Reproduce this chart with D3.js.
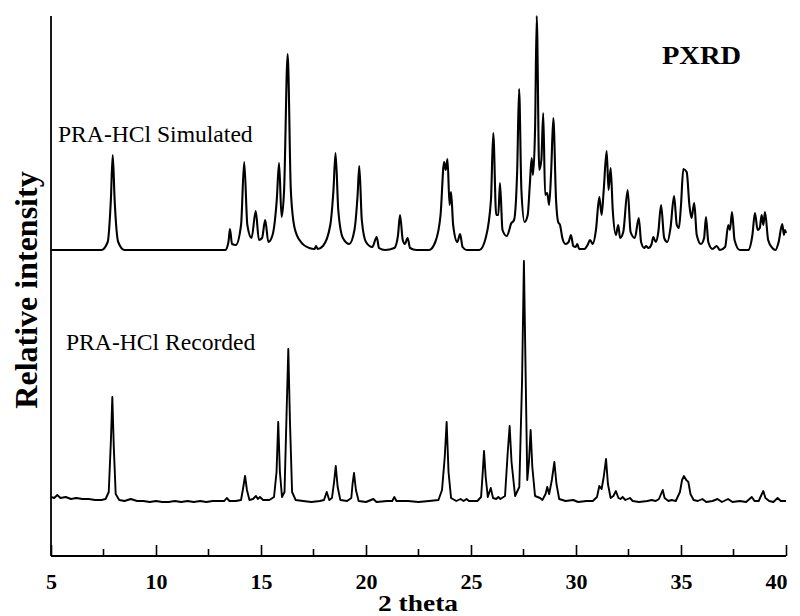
<!DOCTYPE html>
<html>
<head>
<meta charset="utf-8">
<script src="https://cdn.jsdelivr.net/npm/d3@7"></script>
<style>
  body { margin: 0; background: #fff; }
  text { font-family: "Liberation Serif", "Times New Roman", serif; fill: #000; }
</style>
</head>
<body>
<svg width="800" height="616"></svg>
<script>
// Simulated pattern, 2 theta and intensity above its own baseline
var simTheta = [5, 7.4, 7.7, 7.85, 7.94, 8.03, 8.2, 8.5, 13.3, 13.45, 13.52, 13.62, 13.8, 14.05, 14.2, 14.35, 14.55, 14.75, 14.9, 15.05,
    15.2, 15.35, 15.55, 15.75, 15.86, 15.98, 16.1, 16.27, 16.42, 16.6, 16.9, 17.3, 17.55, 17.62, 17.7, 17.95, 18.3, 18.45, 18.55, 18.68,
    18.9, 19.2, 19.45, 19.6, 19.68, 19.8, 20.0, 20.3, 20.51, 20.62, 20.9, 21.35, 21.52, 21.62, 21.75, 21.85, 21.98, 22.1, 22.4, 23.0,
    23.3, 23.55, 23.72, 23.8, 23.88, 23.98, 24.05, 24.15, 24.35, 24.48, 24.6, 24.8, 25.4, 25.7, 25.95, 26.06, 26.2, 26.3, 26.38, 26.5,
    26.7, 26.85, 26.9, 27.05, 27.2, 27.29, 27.4, 27.55, 27.7, 27.8, 27.89, 27.95, 28.05, 28.13, 28.25, 28.35, 28.44, 28.53, 28.63, 28.72,
    28.82, 28.92, 29.05, 29.15, 29.24, 29.35, 29.5, 29.65, 29.76, 29.87, 29.98, 30.06, 30.15, 30.4, 30.55, 30.67, 30.8, 30.95, 31.11, 31.22,
    31.32, 31.46, 31.55, 31.65, 31.75, 31.9, 32.01, 32.1, 32.25, 32.46, 32.6, 32.8, 32.99, 33.1, 33.25, 33.33, 33.45, 33.6, 33.68, 33.8,
    33.92, 34.05, 34.2, 34.35, 34.5, 34.67, 34.8, 34.9, 35.0, 35.11, 35.27, 35.4, 35.5, 35.63, 35.75, 35.95, 36.1, 36.19, 36.3, 36.5,
    36.7, 36.85, 37.1, 37.25, 37.33, 37.43, 37.55, 37.8, 38.2, 38.4, 38.52, 38.65, 38.75, 38.84, 38.92, 39.0, 39.15, 39.35, 39.5, 39.65,
    39.82, 39.9, 39.95, 40];
var simInt = [0, 0, 8, 50, 95, 50, 8, 0, 0, 8, 21, 6, 5, 25, 88, 25, 12, 39, 10, 12,
    30, 8, 15, 50, 87, 33, 60, 196, 60, 22, 8, 2, 1, 4, 1, 4, 25, 60, 97, 40,
    12, 6, 20, 55, 84, 30, 8, 3, 13, 2, 0, 2, 14, 35, 10, 6, 12, 2, 0, 0,
    8, 35, 88, 80, 91, 45, 58, 25, 8, 16, 3, 0, 0, 12, 50, 117, 35, 35, 67, 20,
    14, 22, 26, 30, 80, 161, 60, 28, 35, 65, 92, 75, 120, 234, 80, 90, 137, 55, 57, 45,
    80, 132, 50, 28, 25, 12, 6, 8, 15, 4, 3, 6, 1, 1, 5, 10, 6, 20, 53, 35,
    60, 99, 60, 82, 40, 15, 25, 12, 18, 60, 18, 12, 32, 8, 2, 4, 2, 6, 13, 8,
    18, 45, 12, 8, 22, 54, 25, 22, 45, 81, 78, 45, 32, 47, 15, 6, 12, 33, 8, 1,
    4, 0, 3, 25, 20, 38, 10, 0, 0, 15, 37, 20, 22, 35, 25, 38, 10, 2, 0, 8,
    26, 15, 20, 17];

// Recorded pattern
var recTheta = [5, 5.15, 5.3, 5.45, 5.7, 5.95, 6.2, 6.5, 6.8, 7.1, 7.4, 7.6, 7.75, 7.85, 7.92, 7.99, 8.08, 8.25, 8.5, 8.8,
    9.1, 9.4, 9.7, 10, 10.3, 10.6, 10.9, 11.2, 11.5, 11.8, 12.1, 12.4, 12.7, 13, 13.25, 13.37, 13.5, 13.8, 14.05, 14.15,
    14.24, 14.33, 14.45, 14.62, 14.76, 14.85, 14.95, 15.1, 15.4, 15.62, 15.74, 15.82, 15.9, 16, 16.12, 16.22, 16.3, 16.38, 16.48, 16.65,
    17, 17.4, 17.8, 18, 18.13, 18.25, 18.38, 18.48, 18.56, 18.65, 18.78, 19.1, 19.3, 19.36, 19.43, 19.52, 19.65, 20, 20.35, 20.5,
    21, 21.25, 21.35, 21.45, 22, 22.5, 23, 23.45, 23.62, 23.75, 23.84, 23.93, 24.05, 24.3, 24.5, 24.65, 24.79, 24.9, 25.3, 25.48,
    25.56, 25.62, 25.7, 25.8, 25.94, 26.05, 26.2, 26.3, 26.4, 26.62, 26.75, 26.84, 26.93, 27.1, 27.3, 27.43, 27.52, 27.6, 27.68, 27.76,
    27.84, 27.92, 28.05, 28.29, 28.4, 28.55, 28.63, 28.72, 28.85, 28.97, 29.07, 29.2, 29.5, 29.87, 30.1, 30.5, 30.8, 31, 31.11, 31.22,
    31.32, 31.43, 31.52, 31.65, 31.78, 31.9, 32.02, 32.12, 32.22, 32.35, 32.57, 32.7, 33, 33.4, 33.6, 33.8, 33.95, 34.05, 34.13, 34.22,
    34.4, 34.55, 34.75, 34.95, 35.05, 35.14, 35.25, 35.35, 35.45, 35.6, 35.8, 36.02, 36.2, 36.5, 36.74, 36.95, 37.24, 37.45, 37.8, 38.1,
    38.37, 38.5, 38.7, 38.85, 38.92, 39.02, 39.2, 39.4, 39.6, 39.75, 39.9, 40];
var recInt = [5, 4, 7, 4, 5, 3, 4, 3, 3, 2, 2, 3, 10, 60, 105, 55, 8, 2, 1, 3,
    1, 1, 0, 1, 0, 0, 1, 0, 1, 0, 1, 0, 1, 1, 1, 4, 1, 1, 2, 14,
    26, 12, 2, 3, 6, 3, 5, 2, 2, 5, 30, 80, 30, 5, 10, 90, 153, 80, 10, 2,
    1, 0, 1, 2, 10, 2, 4, 20, 36, 15, 2, 1, 4, 18, 29, 12, 1, 0, 3, 0,
    1, 1, 5, 1, 1, 0, 1, 2, 12, 45, 80, 30, 4, 1, 3, 1, 3, 1, 1, 5,
    30, 51, 25, 5, 14, 4, 3, 5, 3, 6, 50, 76, 40, 6, 15, 120, 241, 130, 22, 40,
    72, 35, 6, 4, 2, 8, 15, 8, 22, 40, 18, 3, 1, 2, 0, 1, 1, 5, 16, 13,
    25, 43, 18, 4, 6, 11, 4, 3, 5, 2, 4, 1, 0, 1, 2, 1, 3, 8, 12, 4,
    1, 2, 1, 10, 22, 26, 22, 20, 8, 2, 1, 3, 0, 1, 3, 0, 3, 0, 1, 0,
    5, 1, 1, 8, 11, 4, 1, 0, 4, 1, 1, 1];

// stacking offsets for the two traces
var simOffset = 306;
var recOffset = 54;

var xTicks = [5, 10, 15, 20, 25, 30, 35, 40];
var xMinorTicks = [7.5, 12.5, 17.5, 22.5, 27.5, 32.5, 37.5];

var svg = d3.select("svg");

var x = d3.scaleLinear().domain([5, 40]).range([51, 786]);
var y = d3.scaleLinear().domain([0, 540]).range([556, 16]);

var line = d3.line()
    .x(function (d) { return x(d[0]); })
    .y(function (d) { return y(d[1]); })
    .curve(d3.curveMonotoneX);

var simData = simTheta.map(function (t, i) { return [t, simInt[i] + simOffset]; });
var recData = recTheta.map(function (t, i) { return [t, recInt[i] + recOffset]; });

// the two traces
svg.append("path")
    .datum(simData)
    .attr("d", line)
    .attr("fill", "none")
    .attr("stroke", "#000")
    .attr("stroke-width", 2.1)
    .attr("stroke-linejoin", "round");

svg.append("path")
    .datum(recData)
    .attr("d", line.curve(d3.curveLinear))
    .attr("fill", "none")
    .attr("stroke", "#000")
    .attr("stroke-width", 1.9)
    .attr("stroke-linejoin", "round");

// bottom axis, ticks point inwards
var xAxis = svg.append("g")
    .attr("transform", "translate(0," + y(0) + ")")
    .call(d3.axisBottom(x).tickValues(xTicks).tickSize(-11).tickFormat(d3.format("d")));
xAxis.select(".domain").attr("stroke-width", 1.8).attr("d", "M51,0H786");
xAxis.selectAll(".tick line").attr("stroke-width", 1.6);
xAxis.selectAll(".tick text")
    .attr("y", 17)
    .attr("dy", "0.71em")
    .style("font-family", "'Liberation Serif', serif")
    .style("font-size", "22px")
    .style("font-weight", "bold");
// last label sits flush with the axis end
xAxis.selectAll(".tick text")
    .filter(function (d) { return d == 40; })
    .attr("text-anchor", "end")
    .attr("x", 1);

svg.append("g")
    .selectAll("line")
    .data(xMinorTicks)
    .enter()
    .append("line")
    .attr("x1", function (d) { return x(d); })
    .attr("x2", function (d) { return x(d); })
    .attr("y1", y(0))
    .attr("y2", y(0) - 7)
    .attr("stroke", "#000")
    .attr("stroke-width", 1.6);

// left axis, no ticks
svg.append("line")
    .attr("x1", x(5)).attr("x2", x(5))
    .attr("y1", y(540)).attr("y2", y(0))
    .attr("stroke", "#000")
    .attr("stroke-width", 1.8);

// titles
svg.append("text")
    .attr("x", 418)
    .attr("y", 611)
    .attr("text-anchor", "middle")
    .attr("textLength", 80)
    .attr("lengthAdjust", "spacingAndGlyphs")
    .style("font-size", "23px")
    .style("font-weight", "bold")
    .text("2 theta");

svg.append("text")
    .attr("transform", "translate(37,290) rotate(-90)")
    .attr("text-anchor", "middle")
    .style("font-size", "32px")
    .style("font-weight", "bold")
    .text("Relative intensity");

svg.append("text")
    .attr("x", 662)
    .attr("y", 64)
    .attr("textLength", 79)
    .attr("lengthAdjust", "spacingAndGlyphs")
    .style("font-size", "26px")
    .style("font-weight", "bold")
    .text("PXRD");

svg.append("text")
    .attr("x", 58)
    .attr("y", 142)
    .style("font-size", "23.6px")
    .text("PRA-HCl Simulated");

svg.append("text")
    .attr("x", 66)
    .attr("y", 350)
    .style("font-size", "23.6px")
    .text("PRA-HCl Recorded");
</script>
</body>
</html>
